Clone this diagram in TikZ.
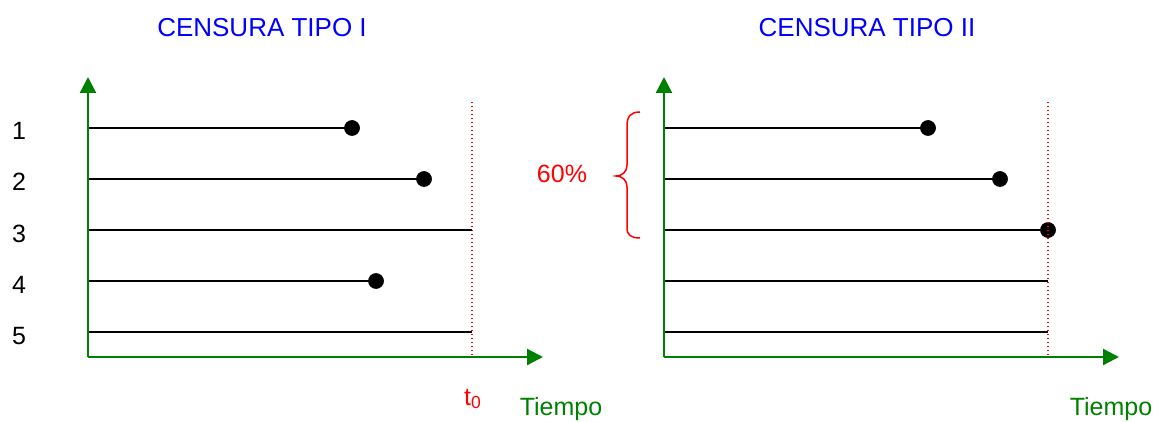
\documentclass[tikz,border=0pt]{standalone}
\usepackage{fontspec}
\setmainfont{Liberation Sans}
\usetikzlibrary{arrows.meta}
\definecolor{axisgreen}{RGB}{0,128,0}
\definecolor{titleblue}{RGB}{0,0,255}
\definecolor{markred}{RGB}{255,0,0}
\tikzset{
  axis/.style={draw=axisgreen, line width=2.3pt,
    -{Triangle[length=16pt,width=16pt]}, color=axisgreen},
  life/.style={draw=black, line width=2pt},
  event/.style={circle, fill=black, inner sep=0pt, minimum size=15.5pt},
  limit/.style={draw=markred, line width=1.4pt, dash pattern=on 1.4pt off 2.6pt},
  lbl/.style={font=\fontsize{25}{30}\selectfont, inner sep=0pt, anchor=base},
  title/.style={lbl, text=titleblue, font=\fontsize{26}{31}\selectfont},
  timelbl/.style={lbl, text=axisgreen},
  brace/.style={draw=markred, line width=1.5pt}
}
\begin{document}
\begin{tikzpicture}[x=1pt, y=-1pt]
\useasboundingbox (0,0) rectangle (1167,422);

% ---------- Type I censoring ----------
\node[title] (t1) at (262,37) {CENSURA TIPO I};
\coordinate (o1) at (88,357);
\coordinate (y1) at (88,77);
\coordinate (x1) at (543,357);
\coordinate (c1top) at (472,102);
\coordinate (c1bot) at (472,357);
\draw[limit] (c1top) -- (c1bot);

\foreach \i/\y in {1/128,2/179,3/230,4/281,5/332}{
  \coordinate (a\i) at (88,\y);
  \node[lbl] (n\i) at (19,\y+12) {\i};
}
\node[event] (d1) at (352,128) {};
\node[event] (d2) at (424,179) {};
\node[event] (d4) at (376,281) {};
\coordinate (e3) at (472,230);
\coordinate (e5) at (472,332);
\draw[life] (a1) -- (d1.center);
\draw[life] (a2) -- (d2.center);
\draw[life] (a3) -- (e3);
\draw[life] (a4) -- (d4.center);
\draw[life] (a5) -- (e5);
\node[event] at (d1) {};
\node[event] at (d2) {};
\node[event] at (d4) {};

\draw[axis] (o1) -- (y1);
\draw[axis] (o1) -- (x1);
\node[lbl, anchor=base west, text=markred] (t0) at (464,405) {t\textsubscript{0}};
\node[timelbl] (time1) at (561,415) {Tiempo};

% ---------- Type II censoring ----------
\node[title] (t2) at (867,37) {CENSURA TIPO II};
\coordinate (o2) at (664,357);
\coordinate (y2) at (664,77);
\coordinate (x2) at (1119,357);
\foreach \i/\y in {1/128,2/179,3/230,4/281,5/332}{
  \coordinate (b\i) at (664,\y);
}
\node[event] (f1) at (928,128) {};
\node[event] (f2) at (1000,179) {};
\node[event] (f3) at (1048,230) {};
\coordinate (g4) at (1048,281);
\coordinate (g5) at (1048,332);
\draw[life] (b1) -- (f1.center);
\draw[life] (b2) -- (f2.center);
\draw[life] (b3) -- (f3.center);
\draw[life] (b4) -- (g4);
\draw[life] (b5) -- (g5);
\node[event] at (f1) {};
\node[event] at (f2) {};
\node[event] at (f3) {};

\coordinate (c2top) at (1048,102);
\coordinate (c2bot) at (1048,357);
\draw[limit] (c2top) -- (c2bot);

\draw[axis] (o2) -- (y2);
\draw[axis] (o2) -- (x2);
\node[timelbl] (time2) at (1111,415) {Tiempo};

% brace grouping the first three subjects
\coordinate (bt) at (640,112);
\coordinate (bm) at (616,176);
\coordinate (bb) at (640,238);
\draw[brace] (bt) .. controls (631,112) and (627,116) .. (627,126)
  -- (627,165) .. controls (627,172) and (622,176) .. (bm)
  .. controls (622,176) and (627,180) .. (627,187)
  -- (627,228) .. controls (627,235) and (631,238) .. (bb);
\node[lbl, text=markred] (pct) at (562,183) {60\%};
\end{tikzpicture}
\end{document}
